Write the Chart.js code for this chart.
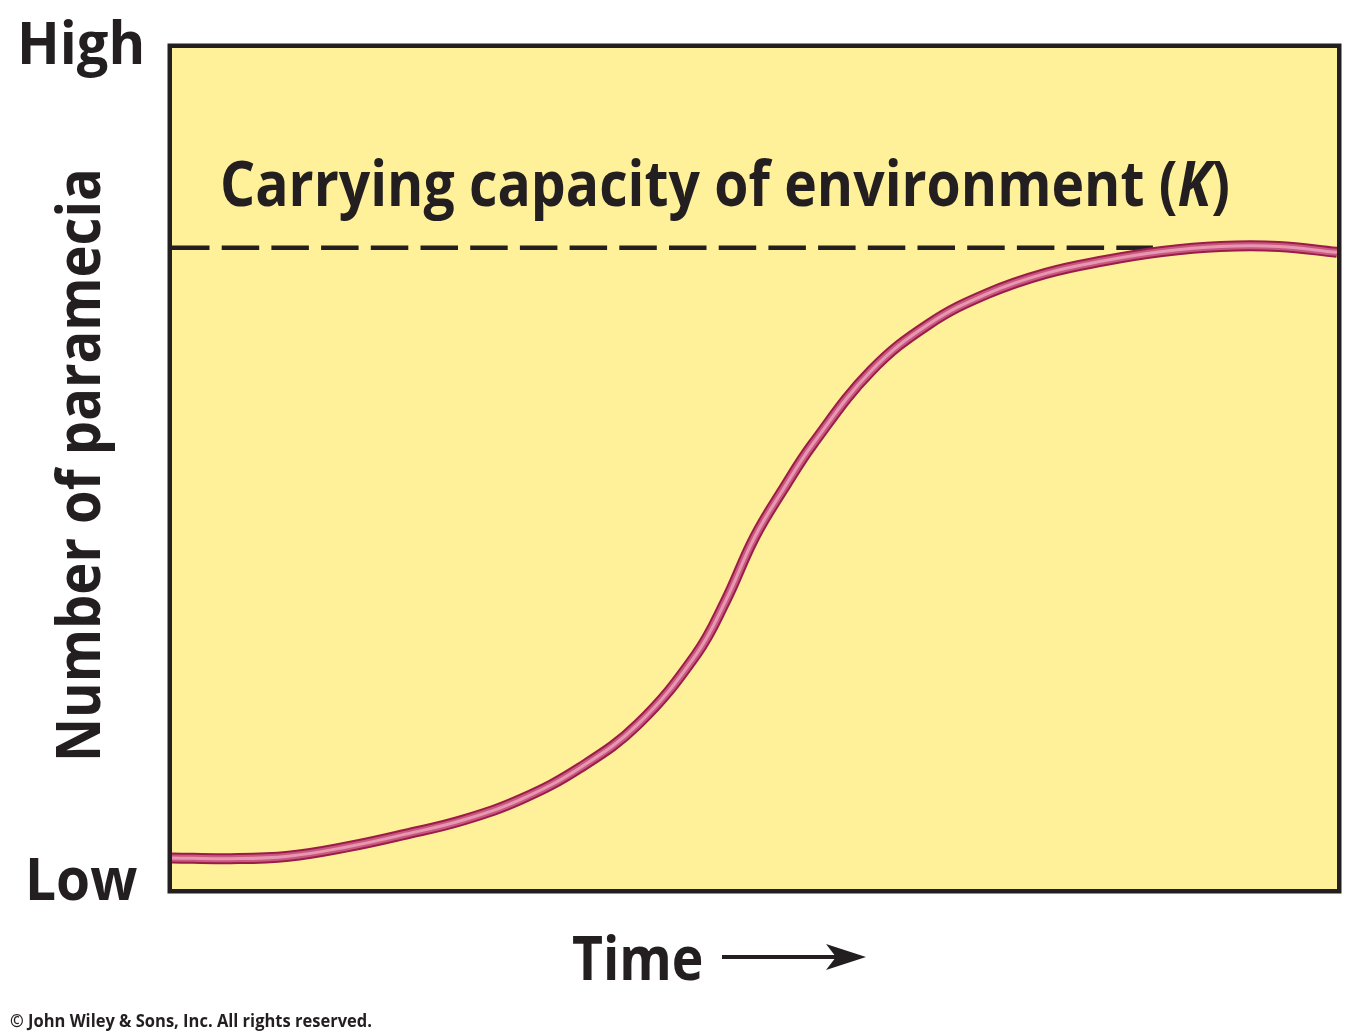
<!DOCTYPE html>
<html>
<head>
<meta charset="utf-8">
<title>Number of paramecia over time</title>
<script src="https://cdn.jsdelivr.net/npm/chart.js@4/dist/chart.umd.min.js"></script>
<style>
    html, body { margin: 0; padding: 0; background: #fff; }
    #wrap { position: relative; width: 1354px; height: 1034px; overflow: hidden; }
    .lbl {
        position: absolute;
        white-space: nowrap;
        font-family: "Open Sans", "Noto Sans", sans-serif;
        font-weight: 700;
        color: #231f20;
        line-height: 1;
        transform-origin: 0 0;
    }
</style>
</head>
<body>
<div id="wrap">
    <canvas id="growthChart" width="1354" height="1034"></canvas>
    <div class="lbl" id="lblHigh" data-w="128" style="left:17px; top:12px; font-size:59px;">High</div>
    <div class="lbl" id="lblLow" data-w="112" style="left:25px; top:848px; font-size:59px;">Low</div>
    <div class="lbl" id="lblK" data-w="1010" style="left:220px; top:151px; font-size:62px;">Carrying capacity of environment (<i>K</i>)</div>
    <div class="lbl" id="lblTime" data-w="131" style="left:572px; top:927px; font-size:60px;">Time</div>
    <div class="lbl" id="lblY" data-w="594" data-rot="1" style="left:47px; top:762px; font-size:60px;">Number of paramecia</div>
    <div class="lbl" id="lblCopy" data-w="362" style="left:10px; top:1012px; font-size:17px;">© John Wiley &amp; Sons, Inc. All rights reserved.</div>
</div>
<script>
// time axis (0 = start, 100 = end of observation), arbitrary units
const timeX = [0, 5, 10, 15, 20, 25, 30, 35, 40, 45, 47.5, 50, 52.5, 55,
    60, 65, 70, 75, 80, 85, 90, 95, 100];
// population size, 0 = low, 100 = high
const paramecia = [3.7, 3.6, 3.9, 5.0, 6.5, 8.2, 10.7, 14.4, 19.6, 27.9, 34.2, 41.8, 47.6, 52.9,
    61.6, 67.2, 70.8, 73.2, 74.7, 75.8, 76.4, 76.4, 75.7];
// carrying capacity K, dashed line
const kLineX = [0, 84.2];
const kLevel = 76.25;

const curve = timeX.map((x, i) => ({ x: x, y: paramecia[i] }));
const kLine = kLineX.map(x => ({ x: x, y: kLevel }));

const frame = {
    id: 'frame',
    beforeDatasetsDraw(chart) {
        const { ctx, chartArea: a } = chart;
        ctx.save();
        ctx.fillStyle = '#fff09a';
        ctx.fillRect(a.left, a.top, a.right - a.left, a.bottom - a.top);
        ctx.restore();
    },
    afterDraw(chart) {
        const { ctx, chartArea: a } = chart;
        ctx.save();
        ctx.strokeStyle = '#231f20';
        ctx.lineWidth = 4.5;
        ctx.strokeRect(a.left - 2.25, a.top - 2.25, a.right - a.left + 4.5, a.bottom - a.top + 4.5);

        // arrow next to "Time"
        ctx.fillStyle = '#231f20';
        ctx.lineWidth = 4;
        ctx.beginPath();
        ctx.moveTo(722, 957);
        ctx.lineTo(840, 957);
        ctx.stroke();
        ctx.beginPath();
        ctx.moveTo(866, 957);
        ctx.lineTo(826, 944);
        ctx.lineTo(836, 957);
        ctx.lineTo(826, 970);
        ctx.closePath();
        ctx.fill();
        ctx.restore();
    }
};

const lineBase = {
    data: curve,
    fill: false,
    pointRadius: 0,
    tension: 0.4,
    borderCapStyle: 'butt',
    borderJoinStyle: 'round'
};

new Chart(document.getElementById('growthChart'), {
    type: 'line',
    data: {
        datasets: [
            { ...lineBase, label: 'glow', borderColor: '#e897b2', borderWidth: 3, order: 1 },
            { ...lineBase, label: 'mid', borderColor: '#c9587f', borderWidth: 7, order: 2 },
            { ...lineBase, label: 'paramecia', borderColor: '#9a1c48', borderWidth: 11, order: 3 },
            {
                label: 'K',
                data: kLine,
                borderColor: '#231f20',
                borderWidth: 4.5,
                borderDash: [37.5, 12.2],
                borderCapStyle: 'butt',
                pointRadius: 0,
                fill: false,
                order: 4
            }
        ]
    },
    options: {
        responsive: false,
        animation: false,
        events: [],
        layout: { padding: { left: 172, right: 17, top: 48, bottom: 145 } },
        scales: {
            x: { type: 'linear', min: 0, max: 100, display: false },
            y: { type: 'linear', min: 0, max: 100, display: false }
        },
        plugins: {
            legend: { display: false },
            tooltip: { enabled: false }
        }
    },
    plugins: [frame]
});

// squeeze labels to the widths of the original lettering
function fitLabels() {
    document.querySelectorAll('.lbl').forEach(el => {
        const target = parseFloat(el.dataset.w);
        const w = el.scrollWidth;
        const s = target / w;
        el.style.transform = el.dataset.rot ? `rotate(-90deg) scaleX(${s})` : `scaleX(${s})`;
    });
}
if (document.fonts && document.fonts.ready) {
    document.fonts.ready.then(fitLabels);
} else {
    fitLabels();
}
</script>
</body>
</html>
